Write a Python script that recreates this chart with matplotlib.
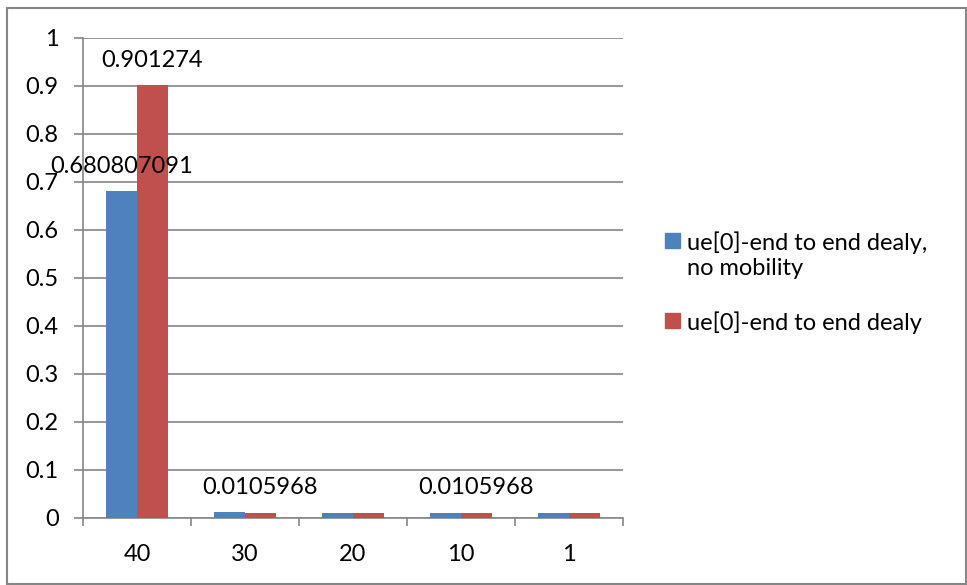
import matplotlib.pyplot as plt
from matplotlib.patches import Rectangle
from matplotlib.ticker import FixedLocator, FuncFormatter
import numpy as np

categories = ['40', '30', '20', '10', '1']
no_mobility = [0.680807091, 0.0122, 0.0106, 0.0106, 0.0106]
with_mobility = [0.901274, 0.0105968, 0.0106, 0.0105968, 0.0106]
series_names = ['ue[0]-end to end dealy,\nno mobility', 'ue[0]-end to end dealy']
# which bars carry a data label (as in the original)
label_no_mob = [True, False, False, False, False]
label_mob = [True, True, False, True, False]

blue = '#4F81BD'
red = '#C0504D'
grey = '#868686'

plt.rcParams['font.family'] = ['Lato', 'DejaVu Sans']
fs = 17

W, H = 967, 585
fig = plt.figure(figsize=(W / 100, H / 100), dpi=100)
ax = fig.add_axes([83 / W, 1 - 518 / H, 540 / W, 480 / H])

x = np.arange(len(categories))
bw = 0.283
b1 = ax.bar(x - bw / 2, no_mobility, bw, color=blue, zorder=3)
b2 = ax.bar(x + bw / 2, with_mobility, bw, color=red, zorder=3)

for bars, vals, flags in [(b1, no_mobility, label_no_mob), (b2, with_mobility, label_mob)]:
    for rect, v, f in zip(bars, vals, flags):
        if f:
            ax.annotate(f'{v:.10g}',
                        (rect.get_x() + rect.get_width() / 2, v),
                        xytext=(0, 18), textcoords='offset points',
                        ha='center', va='center', fontsize=fs, zorder=4)

ax.set_xlim(-0.5, len(categories) - 0.5)
ax.set_ylim(0, 1)
ax.set_yticks(np.arange(0, 1.01, 0.1))
ax.yaxis.set_major_formatter(FuncFormatter(lambda v, p: f'{round(v, 1):g}'))
ax.set_xticks(x)
ax.set_xticklabels(categories)
ax.xaxis.set_minor_locator(FixedLocator(np.arange(-0.5, len(categories), 1.0)))

ax.grid(axis='y', color=grey, linewidth=1.2, zorder=0)
for s in ['top', 'right']:
    ax.spines[s].set_visible(False)
for s in ['left', 'bottom']:
    ax.spines[s].set_color(grey)
    ax.spines[s].set_linewidth(1.2)

ax.tick_params(axis='y', length=6.5, width=1.2, color=grey, pad=11, labelsize=fs)
ax.tick_params(axis='x', which='major', length=0, pad=19, labelsize=fs)
ax.tick_params(axis='x', which='minor', length=6, width=1.2, color=grey)

# legend drawn by hand so the marker sits on the first line of the label
leg_y = [240, 320]
for name, col, yy in zip(series_names, [blue, red], leg_y):
    fig.patches.append(Rectangle((665 / W, 1 - (yy + 7.5) / H), 15 / W, 15 / H,
                                 transform=fig.transFigure, color=col))
    fig.text(687 / W, 1 - (yy - 9) / H, name, fontsize=fs, va='top', ha='left',
             linespacing=1.27)

# outer chart border
fig.patches.append(Rectangle((7 / W, 1 - 584 / H), 959 / W, 576 / H,
                             transform=fig.transFigure, fill=False,
                             edgecolor=grey, linewidth=1.5))

fig.savefig('out.png', dpi=100)
